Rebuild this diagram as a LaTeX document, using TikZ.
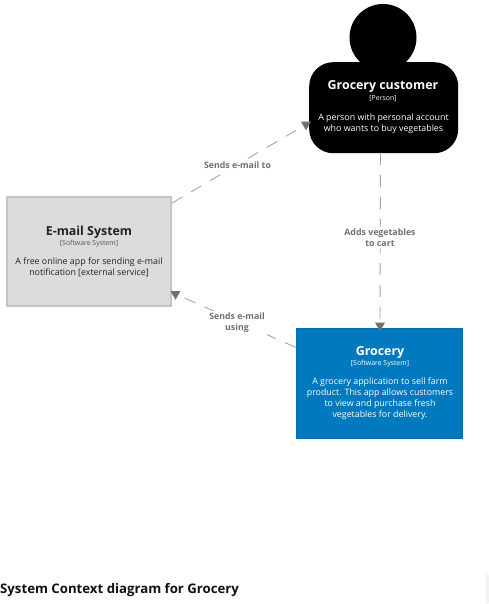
\documentclass[tikz,border=0pt]{standalone}
\usepackage{fontspec}
\setmainfont{Open Sans}
\usetikzlibrary{shapes.geometric,calc}
\definecolor{edgegray}{HTML}{A6A6A6}
\definecolor{tipgray}{HTML}{707070}
\definecolor{labgray}{HTML}{707070}
\definecolor{mailfill}{HTML}{DCDCDC}
\definecolor{mailline}{HTML}{C4C4C4}
\definecolor{groceryfill}{HTML}{0079BF}
\definecolor{groceryline}{HTML}{0A6CA8}
\definecolor{mailtext}{HTML}{222222}
\definecolor{subgray}{HTML}{555555}
\definecolor{titleink}{HTML}{111111}
\definecolor{cornerfill}{HTML}{F3F3F3}
\tikzset{
  x=1pt,y=-1pt,
  boxtext/.style={align=center,inner sep=0pt},
  nametext/.style={font=\fontsize{12.4}{15}\selectfont\bfseries},
  kindtext/.style={font=\fontsize{6.9}{8}\selectfont},
  desctext/.style={font=\fontsize{8.85}{10.8}\selectfont},
  conn/.style={draw=edgegray,line width=0.9pt,dash pattern=on 12pt off 10pt},
  tiphead/.style={regular polygon,regular polygon sides=3,shape border rotate=180,
    fill=tipgray,inner sep=0pt,minimum size=11.5pt},
  connlabel/.style={fill=white,align=center,text=labgray,inner sep=2pt,
    font=\fontsize{8.8}{11}\selectfont\bfseries},
}
\begin{document}
\begin{tikzpicture}
\useasboundingbox (0,0) rectangle (489,604);
\fill[white] (0,0) rectangle (489,604);
% person
\fill[black] (383,37.5) circle (33.5);
\node[draw=none,fill=black,rounded corners=24pt,minimum width=149pt,minimum height=91pt,inner sep=0pt,anchor=north west] (customer) at (309,62) {};
% boxes
\node[draw=mailline,line width=2pt,fill=mailfill,minimum width=164pt,minimum height=109pt,inner sep=0pt,anchor=north west] (mail) at (6,196) {};
\node[draw=groceryline,line width=1.2pt,fill=groceryfill,minimum width=165.8pt,minimum height=109.8pt,inner sep=0pt,anchor=north west] (grocery) at (296,328) {};
% tips
\node[tiphead] (tipA) at (306,124.5) {};
\node[tiphead] (tipB) at (175.5,294) {};
\node[tiphead] (tipC) at (380,325.5) {};
% free ends on node borders
\coordinate (mailNE) at ($(mail.north east)+(0,7)$);
\coordinate (custS) at (380.5,153);
\coordinate (grocW) at (296,347.5);
\draw[conn] (mailNE) -- (tipA);
\draw[conn] (custS) -- (tipC);
\draw[conn] (grocW) -- (tipB);
% connector labels
\node[connlabel] (labA) at (237.5,165.5) {Sends e-mail to};
\node[connlabel] (labB) at (380,237.5) {Adds vegetables\\to cart};
\node[connlabel] (labC) at (237,323.2) {Sends e-mail\\using};
% texts
\node[boxtext,nametext,text=white] (custName) at (383,87) {Grocery customer};
\node[boxtext,kindtext,text=white] (custKind) at (383,99) {[Person]};
\node[boxtext,desctext,text=white] (custDesc) at (383.5,123.5) {A person with personal account\\who wants to buy vegetables};
\node[boxtext,nametext,text=mailtext] (mailName) at (89,232.5) {E-mail System};
\node[boxtext,kindtext,text=subgray] (mailKind) at (89,243.5) {[Software System]};
\node[boxtext,desctext,text=mailtext] (mailDesc) at (89,267.5) {A free online app for sending e-mail\\notification [external service]};
\node[boxtext,nametext,text=white] (grocName) at (380,352.5) {Grocery};
\node[boxtext,kindtext,text=white] (grocKind) at (380,363.5) {[Software System]};
\node[boxtext,desctext,text=white] (grocDesc) at (380,398.5) {A grocery application to sell farm\\product. This app allows customers\\to view and purchase fresh\\vegetables for delivery.};
\node[anchor=west,inner sep=0pt,text=titleink,font=\fontsize{13.2}{15}\selectfont\bfseries] (title) at (0,590.2) {System Context diagram for Grocery};
% page corner
\fill[cornerfill,rounded corners=2pt] (485.5,574) -- (489,574) -- (489,604) -- (485.5,604) -- cycle;
\end{tikzpicture}
\end{document}
